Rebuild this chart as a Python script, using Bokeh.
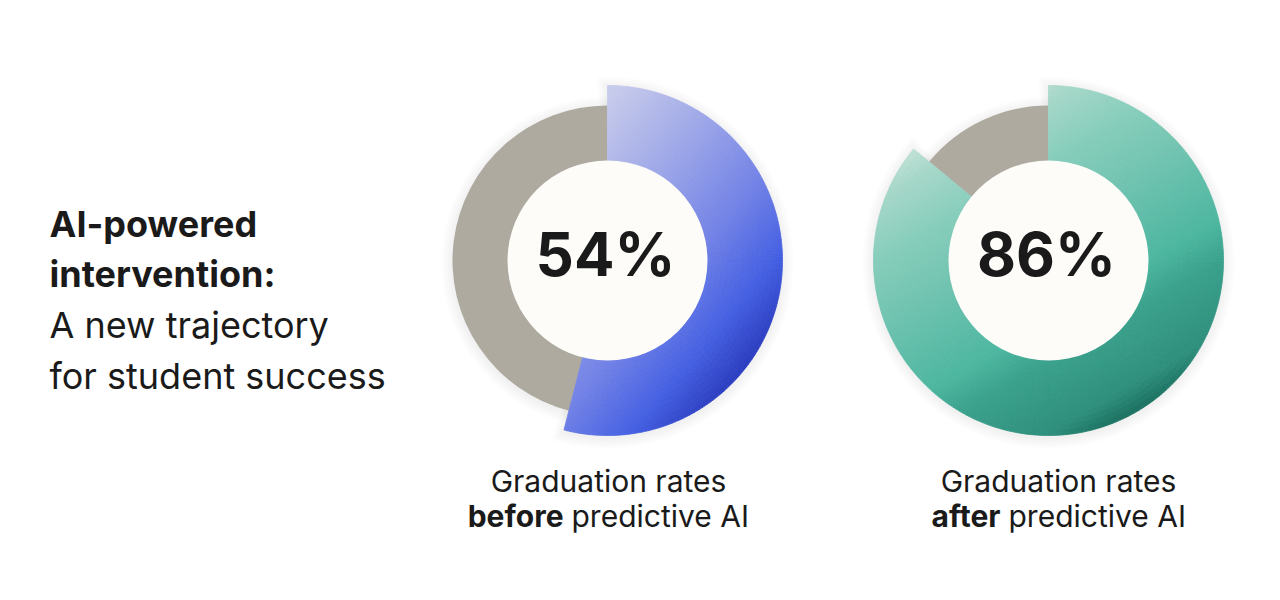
import numpy as np
from bokeh.plotting import figure
from bokeh.models import Range1d
from bokeh.core.properties import value
from bokeh.embed import file_html
from bokeh.resources import INLINE

# ---------------- data ----------------
phases = ["before", "after"]
rates = [54, 86]
rate_labels = ["54%", "86%"]
caption_first = "Graduation rates"
caption_rest = "predictive AI"
title_bold = ["AI-powered", "intervention:"]
title_regular = ["A new trajectory", "for student success"]

# ---------------- layout / style ----------------
W, H = 1264, 584
FONT = value("Inter")
INK = "#1a1a1a"
GREY = "#aeaaa0"
HOLE = "#fdfcf8"
centers_x = [607, 1048]
center_y = 600 - 258
R_IN, R_GREY, R_COL = 100, 155, 175
BASE_SHIFT = 0.44  # em offset to put the alphabetic baseline where wanted
grad_angle = [np.deg2rad(40), np.deg2rad(60)]
grad_stops = [
    [(-176, "#d3d6ef"), (-100, "#c5c9eb"), (-29, "#a3ace8"), (65, "#7282e6"),
     (129, "#4560e2"), (176, "#2a3bbe")],
    [(-176, "#c6e5db"), (-160, "#bcdfd4"), (-139, "#a6d7c9"), (-86, "#86cdbb"),
     (-35, "#72c4b1"), (53, "#4cb69f"), (87, "#3aa18c"), (150, "#2e8f7c"),
     (176, "#1a6f5f")],
]


def hex2rgb(h):
    h = h.lstrip("#")
    return np.array([int(h[i:i + 2], 16) for i in (0, 2, 4)], dtype=float)


def grad_color(t, stops):
    ts = [s[0] for s in stops]
    cols = [hex2rgb(s[1]) for s in stops]
    t = min(max(t, ts[0]), ts[-1])
    for k in range(len(ts) - 1):
        if ts[k] <= t <= ts[k + 1]:
            f = (t - ts[k]) / (ts[k + 1] - ts[k])
            c = cols[k] * (1 - f) + cols[k + 1] * f
            return "#%02x%02x%02x" % tuple(int(round(v)) for v in c)
    return stops[-1][1]


def ty(baseline, size):
    return 600 - baseline + BASE_SHIFT * size


p = figure(width=W, height=H, x_range=Range1d(0, W), y_range=Range1d(602 - H, 602),
           output_backend="svg", toolbar_location=None, min_border=0)
p.axis.visible = False
p.grid.visible = False
p.outline_line_color = None
p.background_fill_color = "white"
p.border_fill_color = "white"

top = np.pi / 2
for i, rate in enumerate(rates):
    cx = centers_x[i]
    end = top - 2 * np.pi * rate / 100.0
    # soft shadows
    for k in range(1, 8):
        p.annular_wedge(x=cx, y=center_y - 2, inner_radius=R_IN, outer_radius=R_GREY + 1.6 * k,
                        start_angle=top, end_angle=end, direction="anticlock",
                        fill_color="black", fill_alpha=0.008, line_color=None)
        p.annular_wedge(x=cx, y=center_y - 2, inner_radius=R_IN, outer_radius=R_COL + 1.6 * k,
                        start_angle=top + 0.008 * k, end_angle=end - 0.008 * k, direction="clock",
                        fill_color="black", fill_alpha=0.008, line_color=None)
    # remaining share in grey
    p.annular_wedge(x=cx, y=center_y, inner_radius=R_IN - 1, outer_radius=R_GREY,
                    start_angle=top, end_angle=end, direction="anticlock",
                    fill_color=GREY, line_color=None)
    # rate share with gradient, built from small sub-wedges
    n_ang = int(round(rate * 3.6))
    angs = np.linspace(top, end, n_ang + 1)
    radii = np.linspace(R_IN - 1, R_COL, 16)
    xs, ys, r0, r1, a0, a1, cols = [], [], [], [], [], [], []
    ca, sa = np.cos(grad_angle[i]), np.sin(grad_angle[i])
    for j in range(n_ang):
        am = 0.5 * (angs[j] + angs[j + 1])
        for b in range(len(radii) - 1):
            rm = 0.5 * (radii[b] + radii[b + 1])
            dx = rm * np.cos(am)
            dyd = -rm * np.sin(am)
            t = dx * ca + dyd * sa
            xs.append(cx); ys.append(center_y)
            r0.append(radii[b]); r1.append(radii[b + 1])
            a0.append(angs[j]); a1.append(angs[j + 1])
            cols.append(grad_color(t, grad_stops[i]))
    p.annular_wedge(x=xs, y=ys, inner_radius=r0, outer_radius=r1,
                    start_angle=a0, end_angle=a1, direction="clock",
                    fill_color=cols, line_color=cols, line_width=0.8)
    # centre disc
    p.circle(x=cx, y=center_y, radius=R_IN, fill_color=HOLE, line_color=None)
    p.text(x=[cx - 2], y=[ty(278, 60)], text=[rate_labels[i]], text_font=FONT,
           text_font_style="bold", text_font_size="60px", text_color=INK,
           text_align="center", text_baseline="alphabetic")

# captions
CAP = 30
cap_cx = [608, 1058]
cap_split = [[563, 571], [1000, 1008]]
for i, ph in enumerate(phases):
    p.text(x=[cap_cx[i]], y=[ty(492, CAP)], text=[caption_first], text_font=FONT,
           text_font_size=f"{CAP}px", text_color=INK, text_align="center",
           text_baseline="alphabetic")
    p.text(x=[cap_split[i][0]], y=[ty(527, CAP)], text=[ph], text_font=FONT,
           text_font_style="bold", text_font_size=f"{CAP}px", text_color=INK,
           text_align="right", text_baseline="alphabetic")
    p.text(x=[cap_split[i][1]], y=[ty(527, CAP)], text=[caption_rest], text_font=FONT,
           text_font_size=f"{CAP}px", text_color=INK, text_align="left",
           text_baseline="alphabetic")

# title block
TS = 36
baselines = [237, 287, 338, 389]
lines = title_bold + title_regular
for k, line in enumerate(lines):
    p.text(x=[49], y=[ty(baselines[k], TS)], text=[line], text_font=FONT,
           text_font_style="bold" if k < len(title_bold) else "normal",
           text_font_size=f"{TS}px", text_color=INK, text_align="left",
           text_baseline="alphabetic")

open("out.html", "w").write(file_html(p, INLINE))
